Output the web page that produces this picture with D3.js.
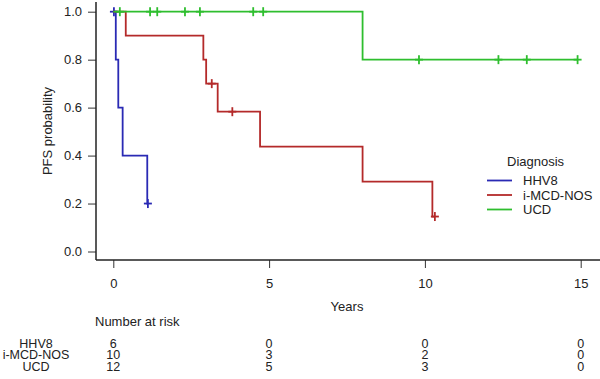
<!DOCTYPE html>
<html>
<head>
<meta charset="utf-8">
<script src="https://cdn.jsdelivr.net/npm/d3@7"></script>
<style>
  body { margin: 0; background: #fff; }
  svg { display: block; font-family: "Liberation Sans", Arial, sans-serif; }
</style>
</head>
<body>
<svg id="chart" width="600" height="379"></svg>
<script>
// groups
const groups = ["HHV8", "i-MCD-NOS", "UCD"];
const colors = ["#2a2ab4", "#b42a2a", "#2ebe2e"];

// KM step curves (time in years, survival after step)
const hhv8Time = [0, 0.08, 0.16, 0.3, 1.09, 1.11];
const hhv8Surv = [1, 0.8, 0.6, 0.4, 0.2, 0.2];
const hhv8Cens = [0.02, 1.11];

const imcdTime = [0, 0.4, 2.89, 2.98, 3.35, 4.71, 8.0, 10.24, 10.32];
const imcdSurv = [1, 0.9, 0.8, 0.7, 0.583, 0.4375, 0.2917, 0.1458, 0.1458];
const imcdCens = [3.16, 3.82, 10.32];

const ucdTime = [0, 8.0, 14.9];
const ucdSurv = [1, 0.8, 0.8];
const ucdCens = [0.21, 1.18, 1.41, 2.3, 2.78, 4.49, 4.81, 9.81, 12.36, 13.27, 14.9];

// number at risk
const riskTimes = [0, 5, 10, 15];
const riskHHV8 = [6, 0, 0, 0];
const riskIMCD = [10, 3, 2, 0];
const riskUCD = [12, 5, 3, 0];

const yTicks = [0, 0.2, 0.4, 0.6, 0.8, 1.0];
const xTicks = [0, 5, 10, 15];

const curves = [
  {name: groups[0], time: hhv8Time, surv: hhv8Surv, cens: hhv8Cens, risk: riskHHV8},
  {name: groups[1], time: imcdTime, surv: imcdSurv, cens: imcdCens, risk: riskIMCD},
  {name: groups[2], time: ucdTime, surv: ucdSurv, cens: ucdCens, risk: riskUCD}
];

const svg = d3.select("#chart");
const x = d3.scaleLinear().domain([0, 15]).range([113.3, 580.7]);
const y = d3.scaleLinear().domain([0, 1]).range([251.5, 11.7]);
const axisX0 = 96, axisY0 = 260;
const txt = "#222";

// y axis
const gy = svg.append("g")
  .attr("transform", `translate(${axisX0},0)`)
  .call(d3.axisLeft(y).tickValues(yTicks).tickFormat(d3.format(".1f")).tickSize(8).tickPadding(6));
gy.select(".domain").remove();
gy.selectAll("line").attr("stroke", "#333");
gy.selectAll("text").attr("font-size", 13).attr("fill", txt).attr("font-family", null);
svg.append("line")
  .attr("x1", axisX0).attr("x2", axisX0)
  .attr("y1", 2).attr("y2", axisY0)
  .attr("stroke", "#222").attr("stroke-width", 1.5);

// x axis
const gx = svg.append("g")
  .attr("transform", `translate(0,${axisY0})`)
  .call(d3.axisBottom(x).tickValues(xTicks).tickSize(8).tickPadding(11));
gx.select(".domain").remove();
gx.selectAll("line").attr("stroke", "#333");
gx.selectAll("text").attr("font-size", 13).attr("fill", txt).attr("font-family", null);
svg.append("line")
  .attr("x1", axisX0).attr("x2", 600)
  .attr("y1", axisY0).attr("y2", axisY0)
  .attr("stroke", "#222").attr("stroke-width", 1.5);

// axis titles
svg.append("text")
  .attr("transform", `translate(52,131) rotate(-90)`)
  .attr("text-anchor", "middle")
  .attr("font-size", 13).attr("fill", txt)
  .text("PFS probability");
svg.append("text")
  .attr("x", 347).attr("y", 311)
  .attr("text-anchor", "middle")
  .attr("font-size", 13).attr("fill", txt)
  .text("Years");

// curves
const line = d3.line()
  .x(d => x(d[0]))
  .y(d => y(d[1]))
  .curve(d3.curveStepAfter);

const survAt = (c, t) => {
  let s = c.surv[0];
  c.time.forEach((tt, i) => { if (tt <= t) s = c.surv[i]; });
  return s;
};

curves.forEach((c, i) => {
  const g = svg.append("g").attr("stroke", colors[i]).attr("fill", "none");
  g.append("path")
    .attr("d", line(d3.zip(c.time, c.surv)))
    .attr("stroke-width", 1.8);
  const marks = g.selectAll("g.cens")
    .data(c.cens)
    .join("g")
    .attr("transform", t => `translate(${x(t)},${y(survAt(c, t))})`);
  marks.append("line").attr("x1", 0).attr("x2", 0).attr("y1", -4.5).attr("y2", 4.5).attr("stroke-width", 1.8);
  marks.append("line").attr("x1", -4).attr("x2", 4).attr("y1", 0).attr("y2", 0).attr("stroke-width", 1.8);
});

// legend
const leg = svg.append("g").attr("font-size", 13).attr("fill", txt);
leg.append("text").attr("x", 507).attr("y", 166).text("Diagnosis");
groups.forEach((gname, i) => {
  const yy = 180.5 + i * 14.5;
  leg.append("line")
    .attr("x1", 487).attr("x2", 512)
    .attr("y1", yy).attr("y2", yy)
    .attr("stroke", colors[i]).attr("stroke-width", 1.8);
  leg.append("text").attr("x", 523).attr("y", yy + 4.5).text(gname);
});

// number at risk table
svg.append("text")
  .attr("x", 95).attr("y", 326)
  .attr("font-size", 13).attr("fill", txt)
  .text("Number at risk");

curves.forEach((c, i) => {
  const yy = 347.5 + i * 11.6;
  svg.append("text")
    .attr("x", 36).attr("y", yy)
    .attr("text-anchor", "middle")
    .attr("font-size", 12.5).attr("fill", txt)
    .text(c.name);
  svg.append("g").selectAll("text")
    .data(d3.zip(riskTimes, c.risk))
    .join("text")
    .attr("x", d => x(d[0]))
    .attr("y", yy)
    .attr("text-anchor", "middle")
    .attr("font-size", 12.5).attr("fill", txt)
    .text(d => d[1]);
});
</script>
</body>
</html>
